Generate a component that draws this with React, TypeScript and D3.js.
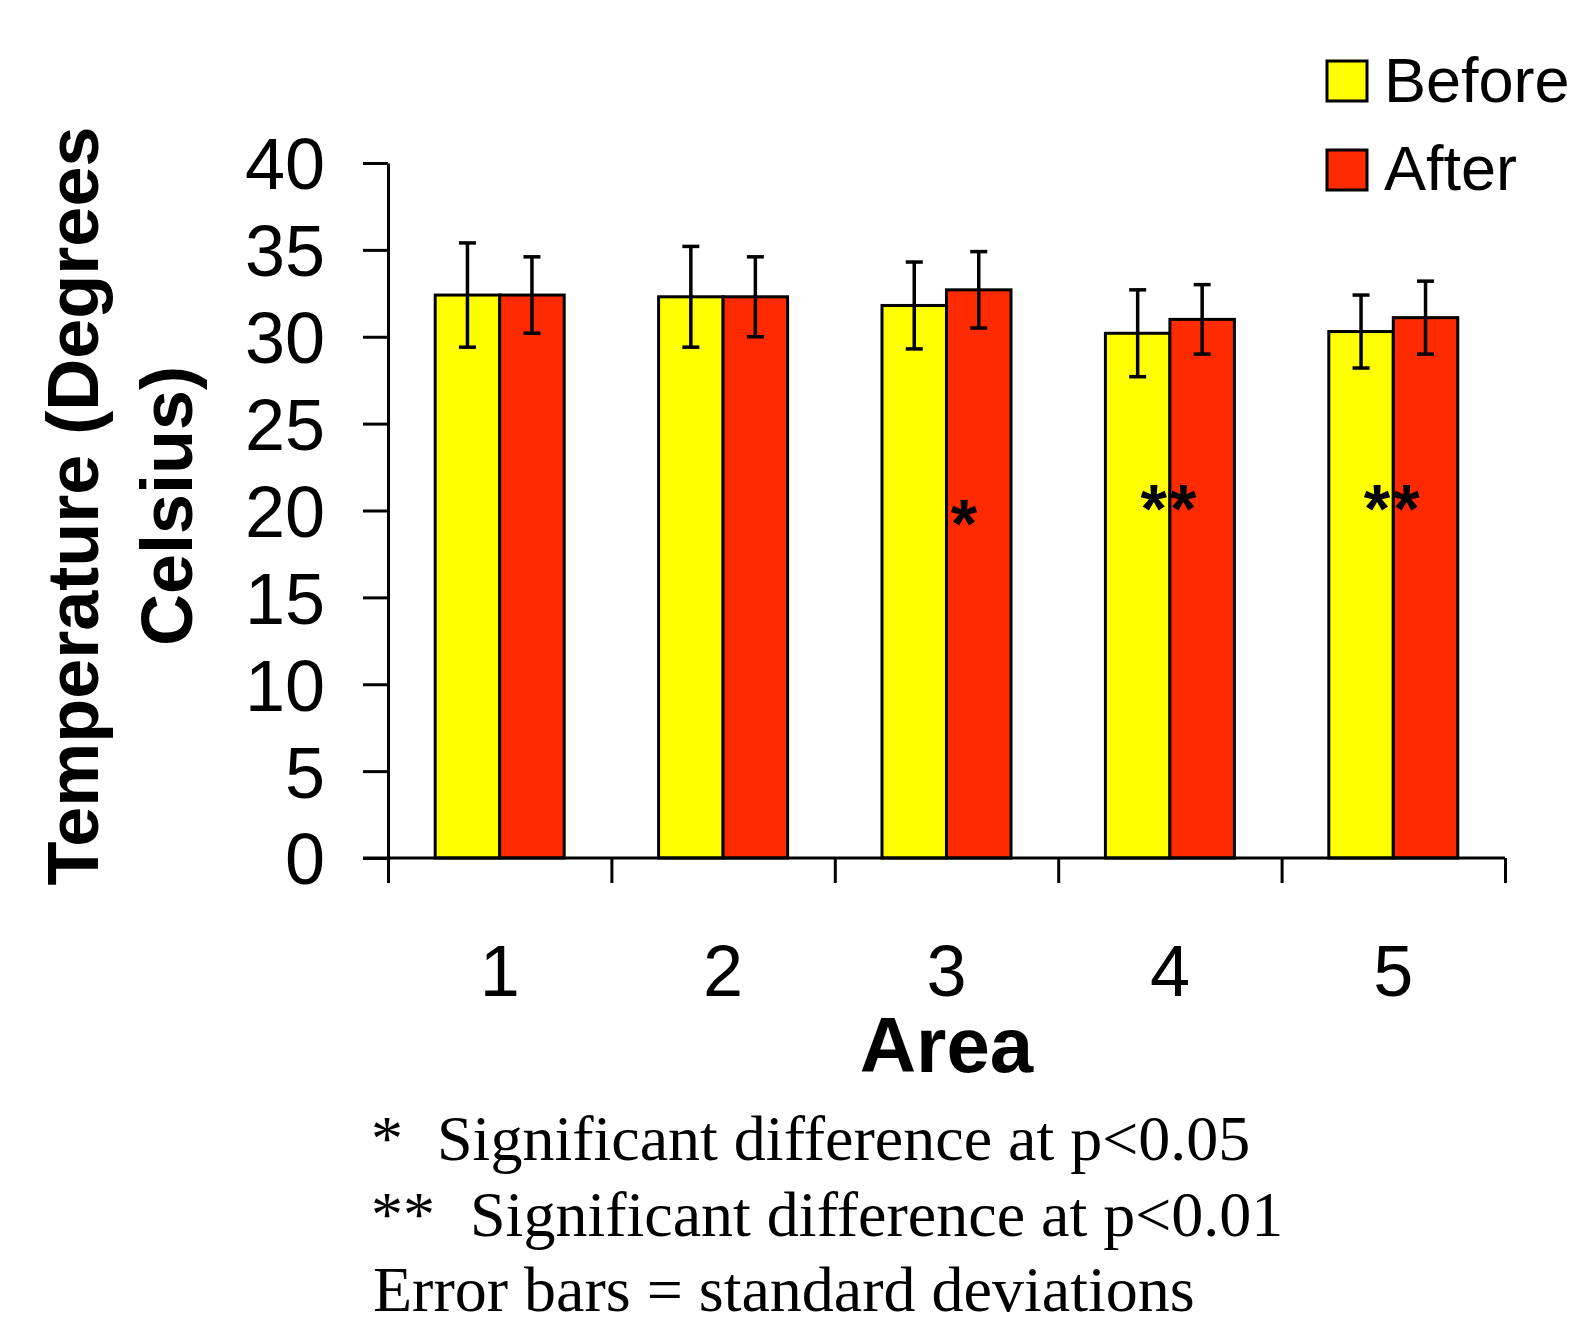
import React, { useEffect, useRef } from "react";
import { select, scaleBand, scaleLinear, axisLeft, axisBottom } from "d3";

const areas = ["1", "2", "3", "4", "5"];
const series = ["Before", "After"];
const beforeMeans = [32.4, 32.3, 31.8, 30.2, 30.3];
const afterMeans = [32.4, 32.3, 32.7, 31.0, 31.1];
const beforeSd = [3.0, 2.9, 2.5, 2.5, 2.1];
const afterSd = [2.2, 2.3, 2.2, 2.0, 2.1];
const significance = ["", "", "*", "**", "**"];
const yTicks = [0, 5, 10, 15, 20, 25, 30, 35, 40];
const yTitle = ["Temperature (Degrees", "Celsius)"];
const footMarks = ["*", "**", ""];
const footTexts = [
    "Significant difference at p<0.05",
    "Significant difference at p<0.01",
    "Error bars = standard deviations",
];
const colors = ["#ffff00", "#ff2a00"];

const SANS = "Arial, 'Liberation Sans', sans-serif";
const SERIF = "'Times New Roman', 'Liberation Serif', serif";

export default function App(): JSX.Element {
    const ref = useRef<SVGSVGElement>(null);

    useEffect(() => {
        const width = 1575;
        const height = 1323;
        const left = 388;
        const right = 1505;
        const top = 163;
        const bottom = 858;

        const svg = select(ref.current).attr("width", width).attr("height", height);
        svg.selectAll("*").remove();

        const x = scaleBand().domain(areas).range([left, right]);
        const xInner = scaleBand().domain(series).range([0, x.bandwidth()]).paddingOuter(0.732);
        const y = scaleLinear().domain([0, 40]).range([bottom, top]);

        const bars = areas.flatMap((a, i) =>
            series.map((s, j) => ({
                area: a,
                s,
                value: j === 0 ? beforeMeans[i] : afterMeans[i],
                sd: j === 0 ? beforeSd[i] : afterSd[i],
                color: colors[j],
            }))
        );

        svg.append("g")
            .selectAll("rect")
            .data(bars)
            .join("rect")
            .attr("x", (d) => (x(d.area) || 0) + (xInner(d.s) || 0))
            .attr("y", (d) => y(d.value))
            .attr("width", xInner.bandwidth())
            .attr("height", (d) => bottom - y(d.value))
            .attr("fill", (d) => d.color)
            .attr("stroke", "#000")
            .attr("stroke-width", 3);

        // error bars
        const err = svg.append("g").attr("stroke", "#000").attr("stroke-width", 3.5);
        bars.forEach((d) => {
            const cx = (x(d.area) || 0) + (xInner(d.s) || 0) + xInner.bandwidth() / 2;
            const y1 = y(d.value + d.sd);
            const y2 = y(d.value - d.sd);
            err.append("line").attr("x1", cx).attr("x2", cx).attr("y1", y1).attr("y2", y2);
            err.append("line").attr("x1", cx - 8.5).attr("x2", cx + 8.5).attr("y1", y1).attr("y2", y1);
            err.append("line").attr("x1", cx - 8.5).attr("x2", cx + 8.5).attr("y1", y2).attr("y2", y2);
        });

        // y axis
        const yAxis = svg.append("g")
            .attr("transform", `translate(${left},0)`)
            .call(axisLeft(y).tickValues(yTicks).tickSize(25).tickSizeOuter(0).tickPadding(38));
        yAxis.select(".domain").attr("stroke-width", 3);
        yAxis.selectAll(".tick line").attr("stroke-width", 3);
        yAxis.selectAll(".tick text")
            .attr("font-size", 72)
            .attr("font-family", SANS)
            .attr("fill", "#000")
            .attr("dy", "0.36em");

        // x axis
        svg.append("line")
            .attr("x1", left - 25)
            .attr("x2", right)
            .attr("y1", bottom)
            .attr("y2", bottom)
            .attr("stroke", "#000")
            .attr("stroke-width", 3);
        const xEdges = scaleLinear().domain([0, areas.length]).range([left, right]);
        const xAxis = svg.append("g")
            .attr("transform", `translate(0,${bottom})`)
            .call(axisBottom(xEdges).ticks(areas.length).tickSize(25).tickFormat(() => ""));
        xAxis.select(".domain").remove();
        xAxis.selectAll(".tick line").attr("stroke-width", 3);

        svg.append("g")
            .selectAll("text")
            .data(areas)
            .join("text")
            .attr("x", (d) => (x(d) || 0) + x.bandwidth() / 2)
            .attr("y", 996)
            .attr("text-anchor", "middle")
            .attr("font-size", 72)
            .attr("font-family", SANS)
            .text((d) => d);

        // significance marks
        svg.append("g")
            .selectAll("text")
            .data(areas.map((a, i) => ({ a, label: significance[i] })).filter((d) => d.label))
            .join("text")
            .attr("x", (d) => (x(d.a) || 0) + x.bandwidth() / 2 + (d.label.length === 1 ? 19 : 0))
            .attr("y", (d) => y(20) + (d.label.length === 1 ? 36 : 21))
            .attr("text-anchor", "middle")
            .attr("font-size", 68)
            .attr("font-weight", "bold")
            .attr("font-family", SANS)
            .attr("letter-spacing", 3)
            .text((d) => d.label);

        // axis titles
        svg.append("g")
            .selectAll("text")
            .data(yTitle)
            .join("text")
            .attr("transform", (_, i) => `translate(${98 + i * 94},506) rotate(-90)`)
            .attr("text-anchor", "middle")
            .attr("font-size", 72)
            .attr("font-weight", "bold")
            .attr("font-family", SANS)
            .text((d) => d);

        svg.append("text")
            .attr("x", (left + right) / 2)
            .attr("y", 1072)
            .attr("text-anchor", "middle")
            .attr("font-size", 78)
            .attr("font-weight", "bold")
            .attr("font-family", SANS)
            .text("Area");

        // legend
        const legend = svg.append("g");
        series.forEach((s, i) => {
            legend.append("rect")
                .attr("x", 1327)
                .attr("y", 61 + i * 89)
                .attr("width", 40)
                .attr("height", 40)
                .attr("fill", colors[i])
                .attr("stroke", "#000")
                .attr("stroke-width", 3);
            legend.append("text")
                .attr("x", 1384)
                .attr("y", 102 + i * 88)
                .attr("font-size", 63)
                .attr("font-family", SANS)
                .text(s);
        });

        // footnotes
        const foot = svg.append("g").attr("font-family", SERIF).attr("font-size", 64);
        footTexts.forEach((t, i) => {
            const m = footMarks[i];
            const line = foot.append("text").attr("y", 1160 + i * 75.5);
            if (m) {
                line.append("tspan").attr("x", 371).text(m);
                line.append("tspan").attr("x", 371 + 33 * (m.length + 1)).text(t);
            } else {
                line.append("tspan").attr("x", 373).text(t);
            }
        });
    }, []);

    return (
        <div style={{ position: "absolute", left: 0, top: 0 }}>
            <svg ref={ref} style={{ display: "block", background: "#fff" }} />
        </div>
    );
}
